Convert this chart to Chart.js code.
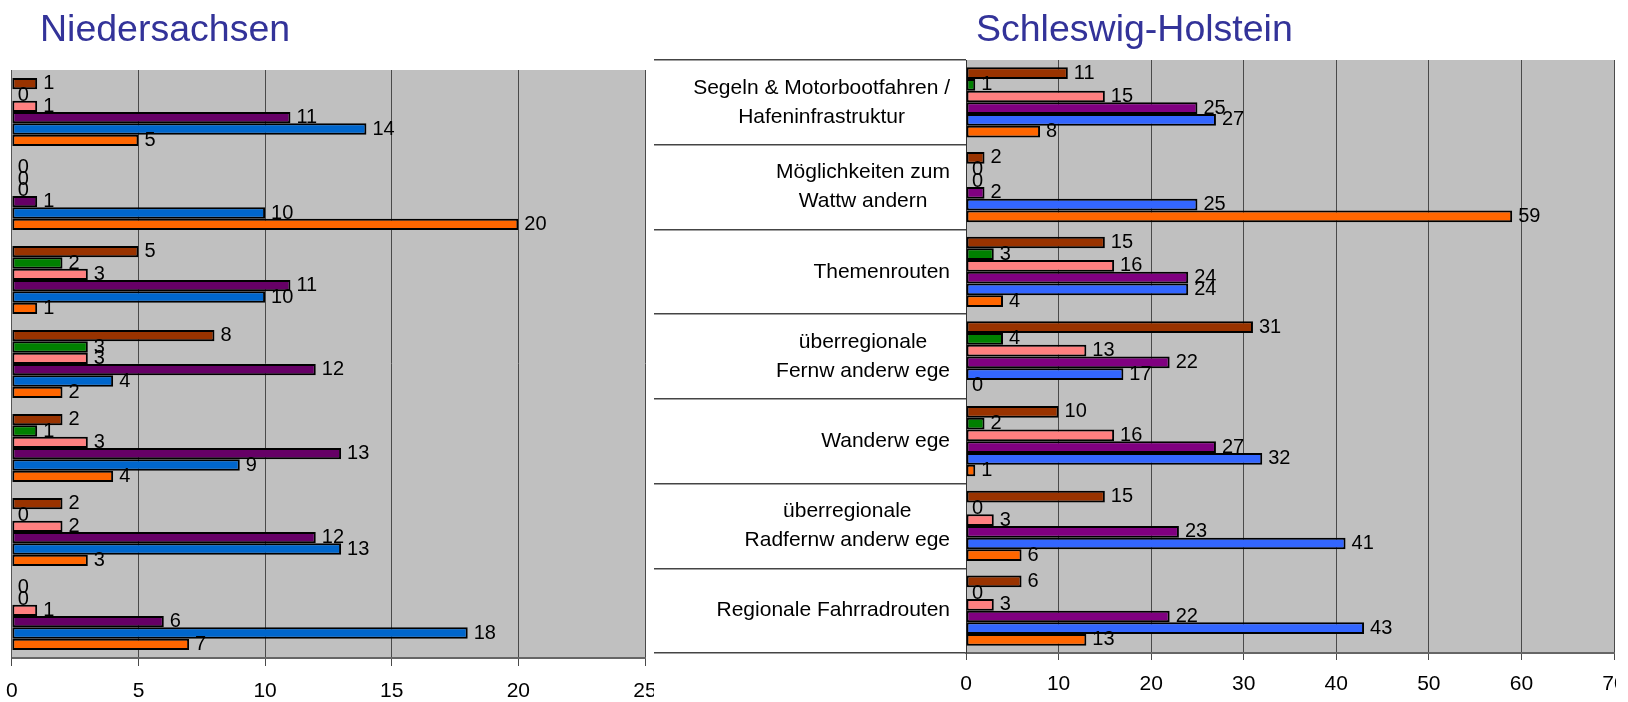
<!DOCTYPE html>
<html>
<head>
<meta charset="utf-8">
<script src="https://cdn.jsdelivr.net/npm/chart.js@4.4.1/dist/chart.umd.min.js"></script>
<style>
  html, body { margin: 0; padding: 0; background: #fff; width: 1628px; height: 702px; overflow: hidden; }
  .title { position: absolute; font-family: "Liberation Sans", Arial, sans-serif; font-size: 37.5px; line-height: 38px; color: #333399; white-space: nowrap; }
  #left { position: absolute; left: -7px; top: 0; }
  #rightWrap { position: absolute; left: 654px; top: 0; width: 962px; height: 702px; overflow: hidden; background: #fff; }
</style>
</head>
<body>
<canvas id="left" width="680" height="702"></canvas>
<div id="rightWrap"><canvas id="right" width="990" height="702"></canvas></div>
<div class="title" style="left:40px; top:9px;">Niedersachsen</div>
<div class="title" style="left:976px; top:9px;">Schleswig-Holstein</div>

<script>
const FONT = '"Liberation Sans", Arial, sans-serif';
Chart.defaults.font.family = FONT;
Chart.defaults.color = '#000';

// Niedersachsen (no category captions shown)
const nsCategories = ['1', '2', '3', '4', '5', '6', '7'];
const nsBrown  = [1, 0, 5, 8, 2, 2, 0];
const nsGreen  = [0, 0, 2, 3, 1, 0, 0];
const nsPink   = [1, 0, 3, 3, 3, 2, 1];
const nsPurple = [11, 1, 11, 12, 13, 12, 6];
const nsBlue   = [14, 10, 10, 4, 9, 13, 18];
const nsOrange = [5, 20, 1, 2, 4, 3, 7];
const nsColors = ['#993300', '#008000', '#FF8080', '#660066', '#0066CC', '#FF6600'];

// Schleswig-Holstein
const shCategories = [
  ['Segeln & Motorbootfahren /', 'Hafeninfrastruktur'],
  ['Möglichkeiten zum', 'Wattw andern'],
  ['Themenrouten'],
  ['überregionale', 'Fernw anderw ege'],
  ['Wanderw ege'],
  ['überregionale', 'Radfernw anderw ege'],
  ['Regionale Fahrradrouten']
];
const shBrown  = [11, 2, 15, 31, 10, 15, 6];
const shGreen  = [1, 0, 3, 4, 2, 0, 0];
const shPink   = [15, 0, 16, 13, 16, 3, 3];
const shPurple = [25, 2, 24, 22, 27, 23, 22];
const shBlue   = [27, 25, 24, 17, 32, 41, 43];
const shOrange = [8, 59, 4, 0, 1, 6, 13];
const shColors = ['#993300', '#008000', '#FF8080', '#800080', '#3366FF', '#FF6600'];

const nsTicks = { max: 25, step: 5 };
const shTicks = { max: 70, step: 10 };

// grey plot background
const plotBg = {
  id: 'plotBg',
  beforeDraw(chart) {
    const { ctx, chartArea: a } = chart;
    ctx.save();
    ctx.fillStyle = '#C0C0C0';
    ctx.fillRect(a.left, a.top, a.right - a.left, a.bottom - a.top);
    ctx.restore();
  }
};

// value printed right of each bar
const valueLabels = {
  id: 'valueLabels',
  afterDatasetsDraw(chart) {
    const ctx = chart.ctx;
    ctx.save();
    ctx.font = '20px ' + FONT;
    ctx.fillStyle = '#000';
    ctx.textAlign = 'left';
    ctx.textBaseline = 'middle';
    chart.data.datasets.forEach((ds, di) => {
      chart.getDatasetMeta(di).data.forEach((bar, i) => {
        ctx.fillText(String(ds.data[i]), bar.x + 6, bar.y);
      });
    });
    ctx.restore();
  }
};

// multi-line captions, block right-aligned, lines centred on each other
const categoryLabels = {
  id: 'categoryLabels',
  afterDraw(chart) {
    const ctx = chart.ctx;
    const y = chart.scales.y;
    const right = y.right - 16;
    ctx.save();
    ctx.font = '21px ' + FONT;
    ctx.fillStyle = '#000';
    ctx.textAlign = 'center';
    ctx.textBaseline = 'middle';
    chart.data.labels.forEach((lines, i) => {
      const cy = y.getPixelForValue(i);
      const w = Math.max(...lines.map(l => ctx.measureText(l).width));
      const cx = right - w / 2;
      lines.forEach((l, k) => ctx.fillText(l, cx, cy + (k - (lines.length - 1) / 2) * 29));
    });
    ctx.restore();
  }
};

function makeDatasets(series, colors, catPct) {
  return series.map((data, i) => ({
    data: data,
    backgroundColor: colors[i],
    borderColor: '#000',
    borderWidth: 2,
    borderSkipped: false,
    barPercentage: 1,
    categoryPercentage: catPct
  }));
}

function xScale(t, tickLen, pad, axisHeight) {
  return {
    min: 0,
    max: t.max,
    ticks: { stepSize: t.step, font: { size: 21 }, color: '#000', padding: pad, maxRotation: 0 },
    grid: { color: '#4a4a4a', lineWidth: 1, drawTicks: true, tickLength: tickLen },
    border: { display: true, color: '#666', width: 2 },
    afterFit: s => { s.height = axisHeight; }
  };
}

const baseOptions = {
  indexAxis: 'y',
  responsive: false,
  animation: false,
  plugins: { legend: { display: false }, tooltip: { enabled: false } }
};

new Chart(document.getElementById('left'), {
  type: 'bar',
  data: {
    labels: nsCategories,
    datasets: makeDatasets([nsBrown, nsGreen, nsPink, nsPurple, nsBlue, nsOrange], nsColors, 0.81)
  },
  options: {
    ...baseOptions,
    layout: { padding: { left: 5, right: 28, top: 70, bottom: 0 } },
    scales: {
      x: xScale(nsTicks, 8, 13, 44),
      y: {
        ticks: { display: false },
        grid: { display: false },
        border: { display: true, color: '#555', width: 1 },
        afterFit: s => { s.width = 0; }
      }
    }
  },
  plugins: [plotBg, valueLabels]
});

new Chart(document.getElementById('right'), {
  type: 'bar',
  data: {
    labels: shCategories,
    datasets: makeDatasets([shBrown, shGreen, shPink, shPurple, shBlue, shOrange], shColors, 0.83)
  },
  options: {
    ...baseOptions,
    layout: { padding: { left: 0, right: 30, top: 60, bottom: 0 } },
    scales: {
      x: xScale(shTicks, 7, 12, 49),
      y: {
        ticks: { display: false },
        grid: { display: true, drawOnChartArea: false, drawTicks: true, tickLength: 312, color: '#444', lineWidth: 1.5, offset: true },
        border: { display: true, color: '#333', width: 1 },
        afterFit: s => { s.width = 312; }
      }
    }
  },
  plugins: [plotBg, valueLabels, categoryLabels]
});
</script>
</body>
</html>
